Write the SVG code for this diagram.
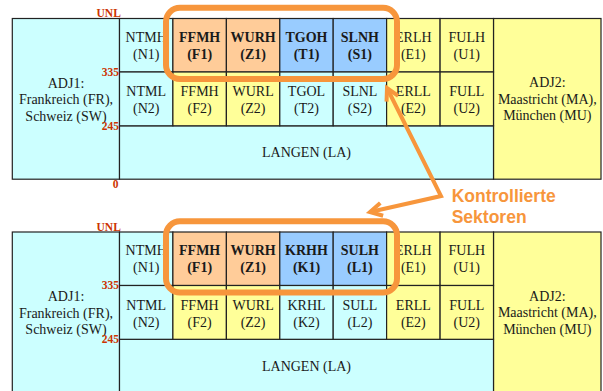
<svg xmlns="http://www.w3.org/2000/svg" width="603" height="391" viewBox="0 0 603 391">
<style>
.c{stroke:#222;stroke-width:1.2}
.cy{fill:#ccffff}.pe{fill:#ffcc99}.bl{fill:#99ccff}.ye{fill:#ffff99}
text.t{font-family:"Liberation Serif","Times New Roman",serif;font-size:14px;fill:#1a1a1a;text-anchor:middle}
text.b{font-weight:bold}
text.r{font-family:"Liberation Serif","Times New Roman",serif;font-size:11.5px;font-weight:bold;fill:#cc3300;text-anchor:end}
.hl{fill:none;stroke:#f7963c;stroke-width:6}
.k{font-family:"Liberation Sans",Arial,sans-serif;font-size:17.5px;font-weight:bold;fill:#f7963c}
.arr{fill:none;stroke:#f7963c;stroke-width:4;stroke-linejoin:miter}
</style>
<defs>
<marker id="chev" markerUnits="userSpaceOnUse" markerWidth="20" markerHeight="20" refX="14" refY="8" orient="auto-start-reverse" overflow="visible">
<path d="M2,1.5 L14,8 L2,14.5" fill="none" stroke="#f7963c" stroke-width="4"/>
</marker>
</defs>
<rect width="603" height="391" fill="#fff"/>

<!-- TOP DIAGRAM -->
<g id="top">
<g id="t-adj1"><rect class="c cy" x="12.3" y="18.5" width="107.2" height="160.7"/>
<text class="t" x="66" y="87.5">ADJ1:</text><text class="t" x="66" y="104">Frankreich (FR),</text><text class="t" x="66" y="120.5">Schweiz (SW)</text></g>
<g id="t-adj2"><rect class="c ye" x="493.5" y="18.5" width="107.5" height="160.7"/>
<text class="t" x="547.3" y="87">ADJ2:</text><text class="t" x="547.3" y="103.5">Maastricht (MA),</text><text class="t" x="547.3" y="120">München (MU)</text></g>
<g id="t-la"><rect class="c cy" x="119.5" y="125.8" width="374" height="53.4"/><text class="t" x="306.5" y="157">LANGEN (LA)</text></g>

<g id="t-n1"><rect class="c cy" x="119.5" y="18.5" width="53.4" height="53.5"/><text class="t" x="146.2" y="41.7">NTMH</text><text class="t" x="146.2" y="58.8">(N1)</text></g>
<g id="t-f1"><rect class="c pe" x="172.9" y="18.5" width="53.5" height="53.5"/><text class="t b" x="199.65" y="41.7">FFMH</text><text class="t b" x="199.65" y="58.8">(F1)</text></g>
<g id="t-z1"><rect class="c pe" x="226.4" y="18.5" width="53.4" height="53.5"/><text class="t b" x="253.1" y="41.7">WURH</text><text class="t b" x="253.1" y="58.8">(Z1)</text></g>
<g id="t-t1"><rect class="c bl" x="279.8" y="18.5" width="53.4" height="53.5"/><text class="t b" x="306.5" y="41.7">TGOH</text><text class="t b" x="306.5" y="58.8">(T1)</text></g>
<g id="t-s1"><rect class="c bl" x="333.2" y="18.5" width="53.4" height="53.5"/><text class="t b" x="359.9" y="41.7">SLNH</text><text class="t b" x="359.9" y="58.8">(S1)</text></g>
<g id="t-e1"><rect class="c ye" x="386.6" y="18.5" width="53.5" height="53.5"/><text class="t" x="413.35" y="41.7">ERLH</text><text class="t" x="413.35" y="58.8">(E1)</text></g>
<g id="t-u1"><rect class="c ye" x="440.1" y="18.5" width="53.4" height="53.5"/><text class="t" x="466.8" y="41.7">FULH</text><text class="t" x="466.8" y="58.8">(U1)</text></g>

<g id="t-n2"><rect class="c cy" x="119.5" y="72" width="53.4" height="53.8"/><text class="t" x="146.2" y="96.3">NTML</text><text class="t" x="146.2" y="113.2">(N2)</text></g>
<g id="t-f2"><rect class="c ye" x="172.9" y="72" width="53.5" height="53.8"/><text class="t" x="199.65" y="96.3">FFMH</text><text class="t" x="199.65" y="113.2">(F2)</text></g>
<g id="t-z2"><rect class="c ye" x="226.4" y="72" width="53.4" height="53.8"/><text class="t" x="253.1" y="96.3">WURL</text><text class="t" x="253.1" y="113.2">(Z2)</text></g>
<g id="t-t2"><rect class="c cy" x="279.8" y="72" width="53.4" height="53.8"/><text class="t" x="306.5" y="96.3">TGOL</text><text class="t" x="306.5" y="113.2">(T2)</text></g>
<g id="t-s2"><rect class="c cy" x="333.2" y="72" width="53.4" height="53.8"/><text class="t" x="359.9" y="96.3">SLNL</text><text class="t" x="359.9" y="113.2">(S2)</text></g>
<g id="t-e2"><rect class="c ye" x="386.6" y="72" width="53.5" height="53.8"/><text class="t" x="413.35" y="96.3">ERLL</text><text class="t" x="413.35" y="113.2">(E2)</text></g>
<g id="t-u2"><rect class="c ye" x="440.1" y="72" width="53.4" height="53.8"/><text class="t" x="466.8" y="96.3">FULL</text><text class="t" x="466.8" y="113.2">(U2)</text></g>

<g id="t-scale"><text class="r" x="120.8" y="17.3">UNL</text><text class="r" x="119" y="75.8">335</text><text class="r" x="119" y="129.6">245</text><text class="r" x="118.5" y="188">0</text></g>
<rect id="t-highlight" class="hl" x="166" y="7.8" width="231" height="71.2" rx="14"/>
</g>

<!-- BOTTOM DIAGRAM -->
<g id="bottom" transform="translate(0,213.5)">
<g id="b-adj1"><rect class="c cy" x="12.3" y="18.5" width="107.2" height="160.7"/>
<text class="t" x="66" y="87.5">ADJ1:</text><text class="t" x="66" y="104">Frankreich (FR),</text><text class="t" x="66" y="120.5">Schweiz (SW)</text></g>
<g id="b-adj2"><rect class="c ye" x="493.5" y="18.5" width="107.5" height="160.7"/>
<text class="t" x="547.3" y="87">ADJ2:</text><text class="t" x="547.3" y="103.5">Maastricht (MA),</text><text class="t" x="547.3" y="120">München (MU)</text></g>
<g id="b-la"><rect class="c cy" x="119.5" y="125.8" width="374" height="53.4"/><text class="t" x="306.5" y="157">LANGEN (LA)</text></g>

<g id="b-n1"><rect class="c cy" x="119.5" y="18.5" width="53.4" height="53.5"/><text class="t" x="146.2" y="41.7">NTMH</text><text class="t" x="146.2" y="58.8">(N1)</text></g>
<g id="b-f1"><rect class="c pe" x="172.9" y="18.5" width="53.5" height="53.5"/><text class="t b" x="199.65" y="41.7">FFMH</text><text class="t b" x="199.65" y="58.8">(F1)</text></g>
<g id="b-z1"><rect class="c pe" x="226.4" y="18.5" width="53.4" height="53.5"/><text class="t b" x="253.1" y="41.7">WURH</text><text class="t b" x="253.1" y="58.8">(Z1)</text></g>
<g id="b-k1"><rect class="c bl" x="279.8" y="18.5" width="53.4" height="53.5"/><text class="t b" x="306.5" y="41.7">KRHH</text><text class="t b" x="306.5" y="58.8">(K1)</text></g>
<g id="b-l1"><rect class="c bl" x="333.2" y="18.5" width="53.4" height="53.5"/><text class="t b" x="359.9" y="41.7">SULH</text><text class="t b" x="359.9" y="58.8">(L1)</text></g>
<g id="b-e1"><rect class="c ye" x="386.6" y="18.5" width="53.5" height="53.5"/><text class="t" x="413.35" y="41.7">ERLH</text><text class="t" x="413.35" y="58.8">(E1)</text></g>
<g id="b-u1"><rect class="c ye" x="440.1" y="18.5" width="53.4" height="53.5"/><text class="t" x="466.8" y="41.7">FULH</text><text class="t" x="466.8" y="58.8">(U1)</text></g>

<g id="b-n2"><rect class="c cy" x="119.5" y="72" width="53.4" height="53.8"/><text class="t" x="146.2" y="96.3">NTML</text><text class="t" x="146.2" y="113.2">(N2)</text></g>
<g id="b-f2"><rect class="c ye" x="172.9" y="72" width="53.5" height="53.8"/><text class="t" x="199.65" y="96.3">FFMH</text><text class="t" x="199.65" y="113.2">(F2)</text></g>
<g id="b-z2"><rect class="c ye" x="226.4" y="72" width="53.4" height="53.8"/><text class="t" x="253.1" y="96.3">WURL</text><text class="t" x="253.1" y="113.2">(Z2)</text></g>
<g id="b-k2"><rect class="c cy" x="279.8" y="72" width="53.4" height="53.8"/><text class="t" x="306.5" y="96.3">KRHL</text><text class="t" x="306.5" y="113.2">(K2)</text></g>
<g id="b-l2"><rect class="c cy" x="333.2" y="72" width="53.4" height="53.8"/><text class="t" x="359.9" y="96.3">SULL</text><text class="t" x="359.9" y="113.2">(L2)</text></g>
<g id="b-e2"><rect class="c ye" x="386.6" y="72" width="53.5" height="53.8"/><text class="t" x="413.35" y="96.3">ERLL</text><text class="t" x="413.35" y="113.2">(E2)</text></g>
<g id="b-u2"><rect class="c ye" x="440.1" y="72" width="53.4" height="53.8"/><text class="t" x="466.8" y="96.3">FULL</text><text class="t" x="466.8" y="113.2">(U2)</text></g>

<g id="b-scale"><text class="r" x="120.8" y="17.3">UNL</text><text class="r" x="119" y="75.8">335</text><text class="r" x="119" y="129.6">245</text></g>
<rect id="b-highlight" class="hl" x="166" y="7.8" width="231" height="71.2" rx="14"/>
</g>

<g id="label"><text class="k" x="451.7" y="202.3">Kontrollierte</text><text class="k" x="451.7" y="223.3">Sektoren</text></g>

<g id="connectors">
<path class="arr" d="M387,88 L441,196 L370,212" marker-start="url(#chev)" marker-end="url(#chev)"/>
</g>
</svg>
